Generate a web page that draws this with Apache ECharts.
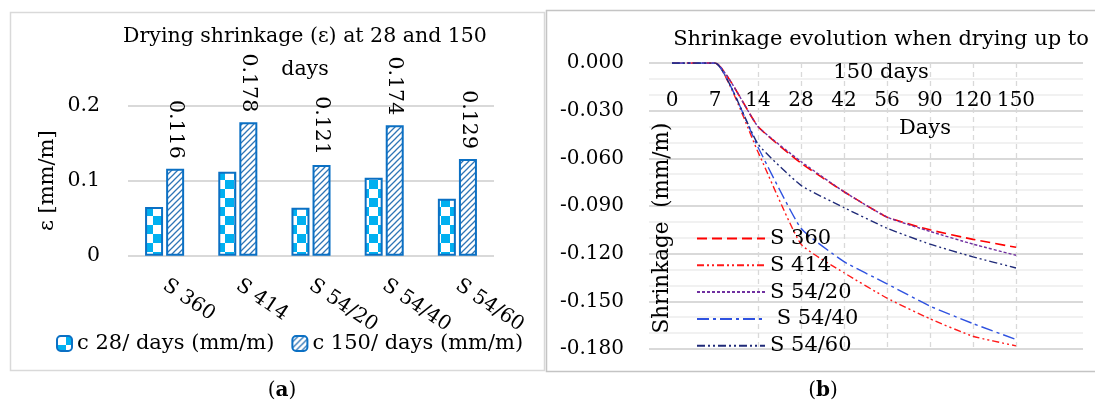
<!DOCTYPE html>
<html>
<head>
<meta charset="utf-8">
<script src="https://cdn.jsdelivr.net/npm/echarts@6/dist/echarts.min.js"></script>
<style>
html,body{margin:0;padding:0;background:#fff;}
#main{width:1095px;height:407px;}
</style>
</head>
<body>
<div id="main"></div>
<script>
// ---------- data ----------
const mixes = ['S 360', 'S 414', 'S 54/20', 'S 54/40', 'S 54/60'];
const c28 = [0.065, 0.112, 0.064, 0.104, 0.076];
const c150 = [0.116, 0.178, 0.121, 0.174, 0.129];
const barYTicks = [0, 0.1, 0.2];

const days = ['0', '7', '14', '28', '42', '56', '90', '120', '150'];
const s360 = [0, 0, -0.040, -0.063, -0.081, -0.097, -0.105, -0.111, -0.116];
const s414 = [0, 0, -0.056, -0.114, -0.132, -0.148, -0.161, -0.172, -0.178];
const s5420 = [0, 0, -0.040, -0.062, -0.081, -0.097, -0.106, -0.114, -0.121];
const s5440 = [0, 0, -0.053, -0.104, -0.125, -0.139, -0.153, -0.164, -0.174];
const s5460 = [0, 0, -0.051, -0.077, -0.091, -0.104, -0.114, -0.122, -0.129];
const lineNames = ['S 360', 'S 414', 'S 54/20', ' S 54/40', 'S 54/60'];

// ---------- patterns ----------
function checker() {
  const c = document.createElement('canvas');
  c.width = 18; c.height = 18;
  const g = c.getContext('2d');
  g.fillStyle = '#ffffff'; g.fillRect(0, 0, 18, 18);
  g.fillStyle = '#00B0F0';
  g.fillRect(9, 0, 9, 9); g.fillRect(0, 9, 9, 9);
  return c;
}
function hatch() {
  const c = document.createElement('canvas');
  c.width = 6; c.height = 6;
  const g = c.getContext('2d');
  g.fillStyle = '#ffffff'; g.fillRect(0, 0, 6, 6);
  g.strokeStyle = '#2E75B6'; g.lineWidth = 1.3;
  g.beginPath();
  g.moveTo(-1, 7); g.lineTo(7, -1);
  g.moveTo(-1, 1); g.lineTo(1, -1);
  g.moveTo(5, 7); g.lineTo(7, 5);
  g.stroke();
  return c;
}

const FONT = 'DejaVu Serif';
const chart = echarts.init(document.getElementById('main'), null, {renderer: 'canvas'});

const option = {
  backgroundColor: '#ffffff',
  animation: false,
  textStyle: {fontFamily: FONT, color: '#000'},
  title: [
    {text: 'Drying shrinkage (ε) at 28 and 150\ndays', left: 305, top: 20, padding: 0, textAlign: 'center',
     textStyle: {fontFamily: FONT, fontSize: 20.5, fontWeight: 'normal', lineHeight: 33, color: '#000'}},
    {text: 'Shrinkage evolution when drying up to\n150 days', left: 881, top: 23, padding: 0, textAlign: 'center',
     textStyle: {fontFamily: FONT, fontSize: 21, fontWeight: 'normal', lineHeight: 33, color: '#000'}},
    {text: 'Days', left: 925, top: 118, padding: 0, textAlign: 'center',
     textStyle: {fontFamily: FONT, fontSize: 21, fontWeight: 'normal', color: '#000'}},
    {text: '({b|a})', left: 282, top: 381, padding: 0, textAlign: 'center',
     textStyle: {fontFamily: FONT, fontSize: 20, fontWeight: 'normal', color: '#000',
       rich: {b: {fontFamily: FONT, fontSize: 20, fontWeight: 'bold', color: '#000'}}}},
    {text: '({b|b})', left: 823, top: 381, padding: 0, textAlign: 'center',
     textStyle: {fontFamily: FONT, fontSize: 20, fontWeight: 'normal', color: '#000',
       rich: {b: {fontFamily: FONT, fontSize: 20, fontWeight: 'bold', color: '#000'}}}}
  ],
  graphic: [
    {type: 'rect', shape: {x: 10.5, y: 12.5, width: 534, height: 358}, style: {fill: 'none', stroke: '#D9D9D9', lineWidth: 1.5}, z: -10},
    {type: 'rect', shape: {x: 546.5, y: 10.5, width: 600, height: 361}, style: {fill: 'none', stroke: '#C4C4C4', lineWidth: 1.5}, z: -10}
  ],
  legend: [
    {data: ['c 28/ days (mm/m)', 'c 150/ days (mm/m)'], left: 56, top: 333, itemWidth: 15, itemHeight: 15, itemGap: 17,
     textStyle: {fontFamily: FONT, fontSize: 21, color: '#000'}, padding: 0},
    {data: lineNames, orient: 'vertical', left: 696, top: 228, itemWidth: 68, itemHeight: 14, itemGap: 5.8,
     itemStyle: {color: 'rgba(0,0,0,0)', borderWidth: 0, opacity: 0},
     textStyle: {fontFamily: FONT, fontSize: 21, color: '#000', lineHeight: 21}, padding: 0}
  ],
  grid: [
    {left: 128, width: 366, top: 105.7, height: 150},
    {left: 649, right: 12, top: 63, height: 286},
    {left: 672, width: 344, top: 63, height: 286}
  ],
  xAxis: [
    {gridIndex: 0, type: 'category', data: mixes,
     axisLine: {show: false}, axisTick: {show: false},
     axisLabel: {rotate: -34, margin: 28, interval: 0, fontFamily: FONT, fontSize: 20, color: '#000'}},
    {gridIndex: 1, type: 'value', show: false, min: 0, max: 1},
    {gridIndex: 2, type: 'category', data: days, boundaryGap: false, position: 'top',
     axisLine: {show: false}, axisTick: {show: false},
     axisLabel: {inside: true, interval: 0, margin: 28, fontFamily: FONT, fontSize: 20, color: '#000'},
     splitLine: {show: true, interval: function (i) { return i >= 2; }, lineStyle: {color: '#D9D9D9', type: [5, 4], width: 1.3}}}
  ],
  yAxis: [
    {gridIndex: 0, type: 'value', min: 0, max: 0.2, interval: 0.1,
     name: 'ε [mm/m]', nameLocation: 'middle', nameGap: 70, nameRotate: 90,
     nameTextStyle: {fontFamily: FONT, fontSize: 21, color: '#000'},
     axisLine: {show: false}, axisTick: {show: false},
     axisLabel: {margin: 28, fontFamily: FONT, fontSize: 20.5, color: '#000',
       formatter: function (v) { return barYTicks.indexOf(v) >= 0 ? String(v) : ''; }},
     splitLine: {lineStyle: {color: '#D9D9D9', width: 2}}},
    {gridIndex: 1, type: 'value', min: -0.18, max: 0, interval: 0.03,
     name: 'Shrinkage  (mm/m)', nameLocation: 'middle', nameGap: -24, nameRotate: 90,
     nameTextStyle: {fontFamily: FONT, fontSize: 21.5, color: '#000', padding: [0, 44, 0, 0]},
     axisLine: {show: false}, axisTick: {show: false},
     axisLabel: {margin: 25, fontFamily: FONT, fontSize: 20, color: '#000',
       formatter: function (v) { return v.toFixed(3); }},
     splitLine: {lineStyle: {color: '#D9D9D9', width: 2}},
     minorTick: {show: false, splitNumber: 3},
     minorSplitLine: {show: true, lineStyle: {color: '#EDEDED', width: 1.5}}},
    {gridIndex: 2, type: 'value', min: -0.18, max: 0, show: false, splitLine: {show: false}}
  ],
  series: [
    {name: 'c 28/ days (mm/m)', type: 'bar', xAxisIndex: 0, yAxisIndex: 0, data: c28,
     barWidth: 18, barGap: '17%',
     itemStyle: {color: {image: checker(), repeat: 'repeat'}, borderColor: '#0B70C4', borderWidth: 2}},
    {name: 'c 150/ days (mm/m)', type: 'bar', xAxisIndex: 0, yAxisIndex: 0, data: c150,
     barWidth: 18, barGap: '17%',
     itemStyle: {color: {image: hatch(), repeat: 'repeat'}, borderColor: '#0B70C4', borderWidth: 2},
     label: {show: true, position: 'top', distance: 10, rotate: -90, align: 'right', verticalAlign: 'middle',
       fontFamily: FONT, fontSize: 20.5, color: '#000', formatter: function (p) { return p.value.toFixed(3); }}},
    {name: lineNames[0], type: 'line', xAxisIndex: 2, yAxisIndex: 2, data: s360, symbol: 'none', smooth: 0.15,
     lineStyle: {color: '#FF0000', width: 1.6, type: [10, 5]}, itemStyle: {color: '#FF0000'}},
    {name: lineNames[1], type: 'line', xAxisIndex: 2, yAxisIndex: 2, data: s414, symbol: 'none', smooth: 0.15,
     lineStyle: {color: '#FF1A1A', width: 1.4, type: [7, 3, 2, 3, 2, 3]}, itemStyle: {color: '#FF1A1A'}},
    {name: lineNames[2], type: 'line', xAxisIndex: 2, yAxisIndex: 2, data: s5420, symbol: 'none', smooth: 0.15,
     lineStyle: {color: '#7030A0', width: 1.4, type: [3, 2]}, itemStyle: {color: '#7030A0'}},
    {name: lineNames[3], type: 'line', xAxisIndex: 2, yAxisIndex: 2, data: s5440, symbol: 'none', smooth: 0.15,
     lineStyle: {color: '#2F52E0', width: 1.4, type: [12, 4, 3, 4]}, itemStyle: {color: '#2F52E0'}},
    {name: lineNames[4], type: 'line', xAxisIndex: 2, yAxisIndex: 2, data: s5460, symbol: 'none', smooth: 0.15,
     lineStyle: {color: '#1F2A78', width: 1.4, type: [8, 3, 2, 3, 2, 3]}, itemStyle: {color: '#1F2A78'}}
  ]
};
chart.setOption(option);
</script>
</body>
</html>
